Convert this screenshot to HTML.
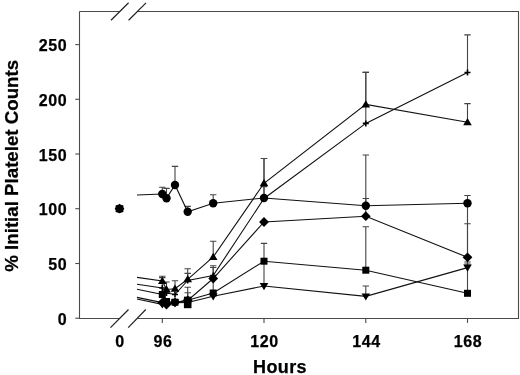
<!DOCTYPE html>
<html><head><meta charset="utf-8"><style>
html,body{margin:0;padding:0;background:#fff;}
body{width:520px;height:375px;overflow:hidden;}
svg{display:block;will-change:transform;}
text{font-family:"Liberation Sans",sans-serif;font-weight:bold;fill:#000;stroke:#000;stroke-width:0.25px;}
</style></head><body>
<svg width="520" height="375" viewBox="0 0 520 375">
<rect width="520" height="375" fill="#fff"/>

<g stroke="#4a4a4a" stroke-width="1.1" fill="none">
<path d="M79.5 11.5V318.5H119.5M137.5 318.5H518.5V11.5H137.5M119 318.5H79.5"/>
<path d="M79.5 11.5H119.5"/>
</g>
<g stroke="#222" stroke-width="1.2" fill="none">
<path d="M111 20.2L128.6 2.7"/>
<path d="M128.6 20.2L146 2.9"/>
<path d="M110.5 327.7L128.5 309.5"/>
<path d="M128.2 327.7L145.8 309.5"/>
</g>
<g stroke="#4a4a4a" stroke-width="1.1" fill="none">
<path d="M75.3 318.2H79.5"/>
<path d="M75.3 263.5H79.5"/>
<path d="M75.3 208.7H79.5"/>
<path d="M75.3 154H79.5"/>
<path d="M75.3 99.3H79.5"/>
<path d="M75.3 44.6H79.5"/>
<path d="M162.3 318.5V322.9"/>
<path d="M264 318.5V322.9"/>
<path d="M365.8 318.5V322.9"/>
<path d="M467.5 318.5V322.9"/>
</g>
<g font-size="16" letter-spacing="0.6" text-anchor="end">
<text x="67.3" y="324.8">0</text>
<text x="67.3" y="270.1">50</text>
<text x="67.3" y="215.3">100</text>
<text x="67.3" y="160.6">150</text>
<text x="67.3" y="105.9">200</text>
<text x="67.3" y="51.2">250</text>
</g>
<g font-size="16" letter-spacing="0.6" text-anchor="middle">
<text x="120.0" y="346.5">0</text>
<text x="162.9" y="346.5">96</text>
<text x="264.6" y="346.5">120</text>
<text x="366.4" y="346.5">144</text>
<text x="468.1" y="346.5">168</text>
</g>
<text x="280.0" y="372.5" font-size="18" letter-spacing="0.35" text-anchor="middle">Hours</text>
<text transform="translate(17.5 165.8) rotate(-90)" font-size="18.7" text-anchor="middle">% Initial Platelet Counts</text>
<g stroke="#444" stroke-width="1.1" fill="none">
<path d="M162.3 194V187.2M159.1 187.2H165.5"/>
<path d="M166.5 198.3V188.4M163.3 188.4H169.7"/>
<path d="M175 185V166.4M171.8 166.4H178.2"/>
<path d="M187.7 211.8V206.4M184.5 206.4H190.9"/>
<path d="M213.2 203.2V194.8M210 194.8H216.4"/>
<path d="M264 198V186.6M260.8 186.6H267.2"/>
<path d="M365.8 205.8V198.5M362.6 198.5H369"/>
<path d="M467.5 203.3V195.5M464.3 195.5H470.7"/>
<path d="M162.3 281V276.3M159.1 276.3H165.5"/>
<path d="M166.5 289.5V282M163.3 282H169.7"/>
<path d="M175 288.7V280.7M171.8 280.7H178.2"/>
<path d="M187.7 279.3V268.7M184.5 268.7H190.9"/>
<path d="M213.2 257V241.3M210 241.3H216.4"/>
<path d="M264 183.3V158.5M260.8 158.5H267.2"/>
<path d="M365.8 104.4V72.4M362.6 72.4H369"/>
<path d="M467.5 122.3V103.6M464.3 103.6H470.7"/>
<path d="M162.3 288V277.6M159.1 277.6H165.5"/>
<path d="M187.7 280.5V273.4M184.5 273.4H190.9"/>
<path d="M213.2 275.5V265.8M210 265.8H216.4"/>
<path d="M264 198.5V158.5M260.8 158.5H267.2"/>
<path d="M365.8 123.4V72.4M362.6 72.4H369"/>
<path d="M467.5 72.5V34.9M464.3 34.9H470.7"/>
<path d="M187.7 300.3V287.3M184.5 287.3H190.9"/>
<path d="M264 261.2V243.4M260.8 243.4H267.2"/>
<path d="M365.8 270.2V226.8M362.6 226.8H369"/>
<path d="M467.5 293.3V262M464.3 262H470.7"/>
<path d="M187.7 301V292.7M184.5 292.7H190.9"/>
<path d="M213.2 278.5V267.5M210 267.5H216.4"/>
<path d="M365.8 216.2V155M362.6 155H369"/>
<path d="M467.5 257.3V223.7M464.3 223.7H470.7"/>
<path d="M365.8 296.4V286M362.6 286H369"/>
<path d="M264 286V261.2M260.8 261.2H267.2"/>
<path d="M213.2 293V278.5M210 278.5H216.4"/>
<path d="M467.5 267.6V203.3M464.3 203.3H470.7"/>
<path d="M467.5 267.6V264M464.3 264H470.7"/>
</g>
<g stroke="#111" stroke-width="1.1" fill="none">
<path d="M137 195L162.3 194L166.5 198.3L175 185L187.7 211.8L213.2 203.2L264 198L365.8 205.8L467.5 203.3"/>
<path d="M137 277.4L162.3 281L166.5 289.5L175 288.7L187.7 279.3L213.2 257L264 183.3L365.8 104.4L467.5 122.3"/>
<path d="M137 284.2L162.3 288L166.5 293L175 294.5L187.7 280.5L213.2 275.5L264 198.5L365.8 123.4L467.5 72.5"/>
<path d="M137 289.2L162.3 294.5L166.5 301.5L175 302.2L187.7 300.3L213.2 293L264 261.2L365.8 270.2L467.5 293.3"/>
<path d="M137 297.4L162.3 302.6L166.5 304.5L175 302.4L187.7 300.5L213.2 278.5L264 222L365.8 216.2L467.5 257.3"/>
<path d="M137 299L162.3 304.4L166.5 305L175 302.6L187.7 302.5L213.2 296.3L264 286L365.8 296.4L467.5 267.6"/>
</g>
<g fill="#000">
<path d="M162.3 308.6L166.6 301.4L158 301.4Z"/>
<path d="M166.5 309.2L170.8 302L162.2 302Z"/>
<path d="M175 306.8L179.3 299.6L170.7 299.6Z"/>
<path d="M187.7 306.7L192 299.5L183.4 299.5Z"/>
<path d="M213.2 300.5L217.5 293.3L208.9 293.3Z"/>
<path d="M264 290.2L268.3 283L259.7 283Z"/>
<path d="M365.8 300.6L370.1 293.4L361.5 293.4Z"/>
<path d="M467.5 271.8L471.8 264.6L463.2 264.6Z"/>
<rect x="158.8" y="291" width="7" height="7"/>
<rect x="163" y="298" width="7" height="7"/>
<rect x="171.5" y="298.7" width="7" height="7"/>
<rect x="184.2" y="296.8" width="7" height="7"/>
<rect x="209.7" y="289.5" width="7" height="7"/>
<rect x="260.5" y="257.7" width="7" height="7"/>
<rect x="362.3" y="266.7" width="7" height="7"/>
<rect x="464" y="289.8" width="7" height="7"/>
<path d="M162.3 297.7L167.2 302.6L162.3 307.5L157.4 302.6Z"/>
<path d="M166.5 299.6L171.4 304.5L166.5 309.4L161.6 304.5Z"/>
<path d="M175 297.5L179.9 302.4L175 307.3L170.1 302.4Z"/>
<path d="M187.7 295.6L192.6 300.5L187.7 305.4L182.8 300.5Z"/>
<path d="M213.2 273.6L218.1 278.5L213.2 283.4L208.3 278.5Z"/>
<path d="M264 217.1L268.9 222L264 226.9L259.1 222Z"/>
<path d="M365.8 211.3L370.7 216.2L365.8 221.1L360.9 216.2Z"/>
<path d="M467.5 252.4L472.4 257.3L467.5 262.2L462.6 257.3Z"/>
<path d="M159.3 288H165.3M162.3 285V291" stroke="#000" stroke-width="1.6" fill="none"/>
<path d="M163.5 293H169.5M166.5 290V296" stroke="#000" stroke-width="1.6" fill="none"/>
<path d="M172 294.5H178M175 291.5V297.5" stroke="#000" stroke-width="1.6" fill="none"/>
<path d="M184.7 280.5H190.7M187.7 277.5V283.5" stroke="#000" stroke-width="1.6" fill="none"/>
<path d="M210.2 275.5H216.2M213.2 272.5V278.5" stroke="#000" stroke-width="1.6" fill="none"/>
<path d="M261 198.5H267M264 195.5V201.5" stroke="#000" stroke-width="1.6" fill="none"/>
<path d="M362.8 123.4H368.8M365.8 120.4V126.4" stroke="#000" stroke-width="1.6" fill="none"/>
<path d="M464.5 72.5H470.5M467.5 69.5V75.5" stroke="#000" stroke-width="1.6" fill="none"/>
<path d="M162.3 276.8L166.6 284L158 284Z"/>
<path d="M166.5 285.3L170.8 292.5L162.2 292.5Z"/>
<path d="M175 284.5L179.3 291.7L170.7 291.7Z"/>
<path d="M187.7 275.1L192 282.3L183.4 282.3Z"/>
<path d="M213.2 252.8L217.5 260L208.9 260Z"/>
<path d="M264 179.1L268.3 186.3L259.7 186.3Z"/>
<path d="M365.8 100.2L370.1 107.4L361.5 107.4Z"/>
<path d="M467.5 118.1L471.8 125.3L463.2 125.3Z"/>
<circle cx="162.3" cy="194" r="4.2"/>
<circle cx="166.5" cy="198.3" r="4.2"/>
<circle cx="175" cy="185" r="4.2"/>
<circle cx="187.7" cy="211.8" r="4.2"/>
<circle cx="213.2" cy="203.2" r="4.2"/>
<circle cx="264" cy="198" r="4.2"/>
<circle cx="365.8" cy="205.8" r="4.2"/>
<circle cx="467.5" cy="203.3" r="4.2"/>
<rect x="183.9" y="296.8" width="7.6" height="11.4"/>
<path d="M119.5 212.9L123.8 205.7L115.2 205.7Z"/>
<rect x="116" y="205.2" width="7" height="7"/>
<path d="M119.5 203.8L124.4 208.7L119.5 213.6L114.6 208.7Z"/>
<path d="M116.5 208.7H122.5M119.5 205.7V211.7" stroke="#000" stroke-width="1.6" fill="none"/>
<path d="M119.5 204.5L123.8 211.7L115.2 211.7Z"/>
<circle cx="119.5" cy="208.7" r="4.2"/>
</g>
</svg>
</body></html>
